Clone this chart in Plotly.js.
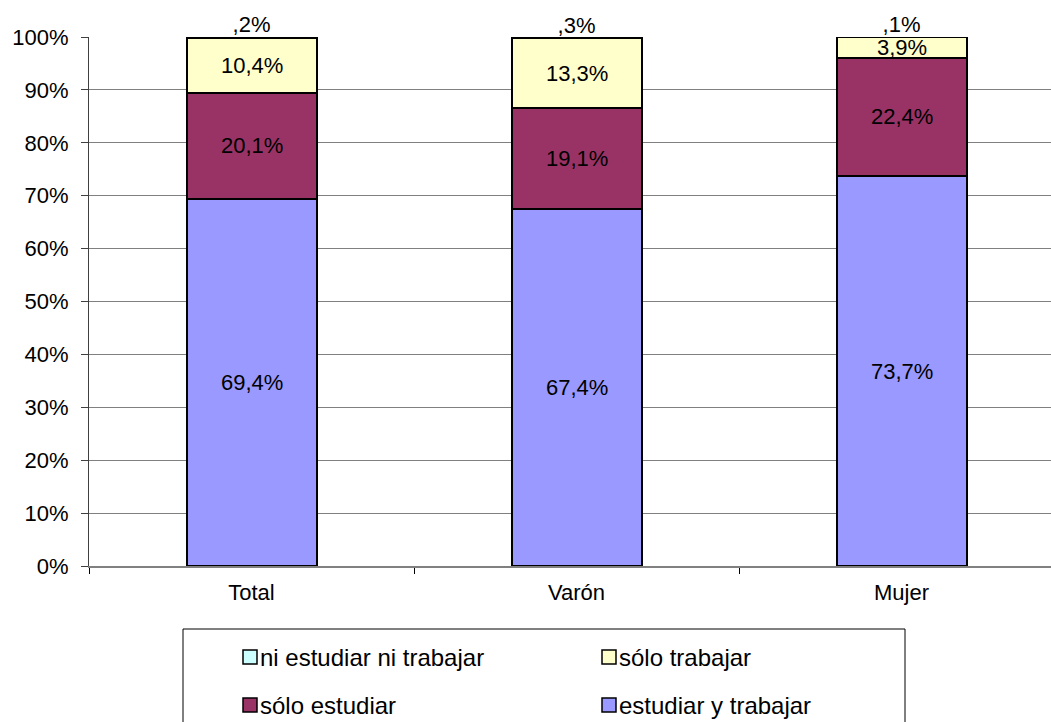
<!DOCTYPE html>
<html>
<head>
<meta charset="utf-8">
<script src="https://cdn.plot.ly/plotly-3.0.1.min.js"></script>
<style>html,body{margin:0;padding:0;background:#fff;overflow:hidden}#chart{width:1051px;height:722px}</style>
</head>
<body>
<div id="chart"></div>
<script>
const categories = ['Total', 'Varón', 'Mujer'];
const estudiarYTrabajar = [69.4, 67.4, 73.7];
const soloEstudiar = [20.1, 19.1, 22.4];
const soloTrabajar = [10.4, 13.3, 3.9];
const niEstudiarNiTrabajar = [0.2, 0.3, 0.1];
const seriesNames = ['estudiar y trabajar', 'sólo estudiar', 'sólo trabajar', 'ni estudiar ni trabajar'];
const seriesValues = [estudiarYTrabajar, soloEstudiar, soloTrabajar, niEstudiarNiTrabajar];
const seriesColors = ['#9999FF', '#993366', '#FFFFCC', '#CCFFFF'];
const legendOrder = ['ni estudiar ni trabajar', 'sólo trabajar', 'sólo estudiar', 'estudiar y trabajar'];

const FONT = 'Liberation Sans, Arial, sans-serif';
const W = 1051, H = 722, L = 89, T = 37, B = 156, R = 0;
const plotW = W - L - R, plotH = H - T - B;
const px2x = p => (p - L) / plotW;
const px2y = p => (H - B - p) / plotH;

function fmt(v) {
  let s = v.toFixed(1).replace('.', ',');
  if (s.startsWith('0')) s = s.slice(1);
  return s + '%';
}

const traces = seriesValues.map((vals, k) => ({
  type: 'bar',
  name: seriesNames[k],
  x: categories,
  y: vals,
  width: 0.4,
  cliponaxis: false,
  marker: { color: seriesColors[k], line: { color: '#000', width: 2 } },
  hoverinfo: 'none',
  showlegend: false
}));

const annotations = [];
const bases = categories.map(() => 0);
const lastIdx = seriesValues.length - 1;
let topBases = null;
seriesValues.forEach((vals, k) => {
  if (k === lastIdx) topBases = bases.slice();
  vals.forEach((v, i) => {
    if (k !== lastIdx) {
      annotations.push({
        x: categories[i], xref: 'x',
        y: bases[i] + v / 2, yref: 'y',
        yanchor: 'middle',
        text: fmt(v), showarrow: false,
        font: { family: FONT, size: 22, color: '#000' }
      });
    }
    bases[i] += v;
  });
});

// labels of the thin top segment, drawn just above the stack
traces.push({
  type: 'scatter', mode: 'text',
  x: categories, y: topBases.map(b => Math.min(b, 100)),
  text: niEstudiarNiTrabajar.map(fmt),
  textposition: 'top center',
  textfont: { family: FONT, size: 22, color: '#000' },
  cliponaxis: false, hoverinfo: 'none', showlegend: false
});

// custom two-column legend
const shapes = [{
  type: 'rect', xref: 'paper', yref: 'paper',
  x0: px2x(183), x1: px2x(905), y0: px2y(629), y1: px2y(740),
  line: { color: '#000', width: 1 }, fillcolor: 'rgba(0,0,0,0)'
}];
const colX = [243, 602], rowY = [657, 705], sq = 14;
legendOrder.forEach((name, j) => {
  const k = seriesNames.indexOf(name);
  const cx = colX[j % 2], cy = rowY[Math.floor(j / 2)];
  shapes.push({
    type: 'rect', xref: 'paper', yref: 'paper',
    x0: px2x(cx), x1: px2x(cx + sq), y0: px2y(cy - sq / 2), y1: px2y(cy + sq / 2),
    fillcolor: seriesColors[k], line: { color: '#000', width: 1.5 }
  });
  annotations.push({
    xref: 'paper', yref: 'paper', x: px2x(cx + sq + 1), y: px2y(cy),
    xanchor: 'left', yanchor: 'middle', showarrow: false, text: name,
    font: { family: FONT, size: 24, color: '#000' }
  });
});

const layout = {
  width: W, height: H,
  margin: { l: L, r: R, t: T, b: B, pad: 0 },
  barmode: 'stack',
  paper_bgcolor: '#fff', plot_bgcolor: '#fff',
  showlegend: false,
  font: { family: FONT, size: 22, color: '#000' },
  xaxis: {
    type: 'category', range: [-0.5, -0.5 + plotW / 325],
    tickson: 'boundaries', ticks: 'outside', ticklen: 6, tickcolor: '#000', tickwidth: 1,
    ticklabelstandoff: 6,
    showgrid: false, zeroline: false,
    showline: true, linecolor: '#808080', linewidth: 2,
    tickfont: { family: FONT, size: 22, color: '#000' }
  },
  yaxis: {
    range: [0, 100], dtick: 10, ticksuffix: '%',
    ticks: 'outside', ticklen: 7, tickcolor: '#404040', tickwidth: 1,
    ticklabelstandoff: 8,
    showgrid: true, gridcolor: '#808080', gridwidth: 1,
    zeroline: false, showline: true, linecolor: '#404040', linewidth: 1,
    tickfont: { family: FONT, size: 22, color: '#000' }
  },
  shapes: shapes,
  annotations: annotations
};

Plotly.newPlot('chart', traces, layout, { staticPlot: true, displayModeBar: false });
</script>
</body>
</html>
